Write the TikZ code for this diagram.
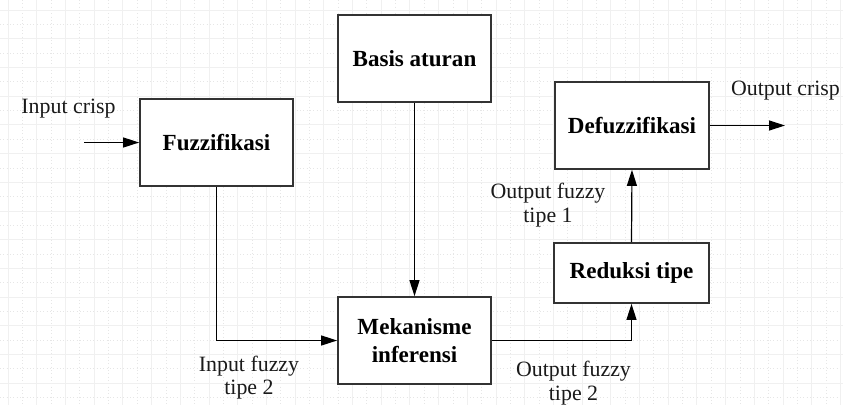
\documentclass[tikz,border=0pt]{standalone}
\usepackage{fontspec}
\setmainfont{Liberation Serif}
\usetikzlibrary{arrows.meta}
\definecolor{gridmaj}{HTML}{F0F0F0}
\definecolor{gridmin}{HTML}{E6E6E6}
\definecolor{boxline}{HTML}{333333}
\definecolor{txt}{HTML}{1A1A1A}
\tikzset{
  blockbox/.style={draw=boxline, line width=1.3pt, fill=white, minimum width=#1*0.75pt, inner sep=0pt, align=center, text=black, font=\fontsize{17.3}{21}\selectfont\bfseries},
  conn/.style={line width=0.9pt, -{Triangle[length=12pt,width=7.5pt]}},
  lbl/.style={align=center, text=txt, font=\fontsize{16.4}{17.5}\selectfont, inner sep=0pt},
}
\begin{document}
\begin{tikzpicture}[x=0.75pt,y=-0.75pt]
\useasboundingbox (0,0) rectangle (843,405);
\fill[white] (0,0) rectangle (843,405);
% minor grid
\foreach \k in {0,...,29} {
  \draw[gridmin, line width=0.5pt, dotted] ({8+14.35+28.7*\k},0) -- ({8+14.35+28.7*\k},405);
}
\foreach \k in {-1,...,13} {
  \draw[gridmin, line width=0.5pt, dotted] (0,{10+14.35+28.7*\k}) -- (843,{10+14.35+28.7*\k});
}
% major grid
\foreach \k in {0,...,29} {
  \draw[gridmaj, line width=0.6pt] ({8+28.7*\k},0) -- ({8+28.7*\k},405);
}
\foreach \k in {0,...,13} {
  \draw[gridmaj, line width=0.6pt] (0,{10+28.7*\k}) -- (843,{10+28.7*\k});
}
% boxes
\node[blockbox=153, minimum height=87*0.75pt] (fuzz) at (216.5,142.5) {Fuzzifikasi};
\node[blockbox=153, minimum height=87*0.75pt] (basis) at (414.5,58.5) {Basis aturan};
\node[blockbox=154, minimum height=87*0.75pt] (defuzz) at (632,125.5) {Defuzzifikasi};
\node[blockbox=153, minimum height=87*0.75pt] (mek) at (414.5,340.5) {Mekanisme\\inferensi};
\node[blockbox=155, minimum height=60*0.75pt] (red) at (631.5,273) {Reduksi tipe};
% free ends
\coordinate (inA) at (84,142.5);
\coordinate (outB) at (785,125.5);
\coordinate (c1) at (216.5,340.5);
\coordinate (c2) at (631.5,340.5);
% connectors
\draw[conn] (inA) -- (fuzz.west);
\draw[conn] (defuzz.east) -- (outB);
\draw[conn] (basis.south) -- (mek.north);
\draw[conn] (fuzz.south) -- (c1) -- (mek.west);
\draw[conn] (mek.east) -- (c2) -- (red.south);
\draw[conn] (red.north) -- (defuzz.south);
% labels
\node[lbl] (l1) at (68.5,109) {Input crisp};
\node[lbl] (l2) at (785.5,91) {Output crisp};
\node[lbl] (l3) at (548,205) {Output fuzzy\\tipe 1};
\node[lbl] (l4) at (249,377.5) {Input fuzzy\\tipe 2};
\node[lbl] (l5) at (573.5,383) {Output fuzzy\\tipe 2};
\end{tikzpicture}
\end{document}
